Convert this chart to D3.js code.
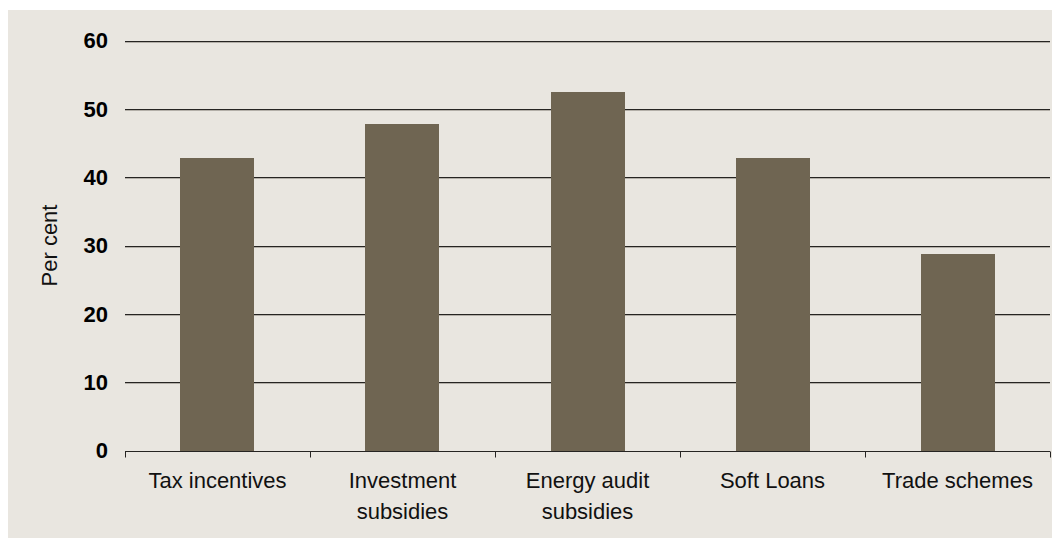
<!DOCTYPE html>
<html>
<head>
<meta charset="utf-8">
<script src="https://cdn.jsdelivr.net/npm/d3@7"></script>
<style>
  body { margin: 0; background: #fff; }
  svg { display: block; font-family: "Liberation Sans", Arial, sans-serif; }
</style>
</head>
<body>
<div id="chart"></div>
<script>
// data
const categories = ["Tax incentives", "Investment subsidies", "Energy audit subsidies", "Soft Loans", "Trade schemes"];
const labelLines = [["Tax incentives"], ["Investment", "subsidies"], ["Energy audit", "subsidies"], ["Soft Loans"], ["Trade schemes"]];
const values = [42.8, 47.8, 52.4, 42.8, 28.8];
const yTicks = [0, 10, 20, 30, 40, 50, 60];

const W = 1052, H = 539;
const margin = { left: 125, right: 2, top: 40.5, bottom: 88.5 };

const svg = d3.select("#chart").append("svg")
  .attr("width", W)
  .attr("height", H);

// panel background
svg.append("rect")
  .attr("x", 8).attr("y", 10)
  .attr("width", W - 8).attr("height", 528)
  .attr("fill", "#E9E6E0");

const x = d3.scaleBand()
  .domain(categories)
  .range([margin.left, W - margin.right])
  .paddingInner(0.6)
  .paddingOuter(0.3);

const y = d3.scaleLinear()
  .domain([0, 60])
  .range([H - margin.bottom, margin.top]);

// gridlines (with faint shadow)
const grid = svg.append("g");
yTicks.filter(t => t > 0).forEach(t => {
  grid.append("line")
    .attr("x1", margin.left).attr("x2", W - margin.right)
    .attr("y1", Math.round(y(t)) + 1.5).attr("y2", Math.round(y(t)) + 1.5)
    .attr("stroke", "#b3afa8").attr("stroke-width", 1);
  grid.append("line")
    .attr("x1", margin.left).attr("x2", W - margin.right)
    .attr("y1", Math.round(y(t)) + 0.5).attr("y2", Math.round(y(t)) + 0.5)
    .attr("stroke", "#262422").attr("stroke-width", 1);
});

// bars
svg.append("g")
  .selectAll("rect")
  .data(values)
  .join("rect")
  .attr("x", (d, i) => Math.round(x(categories[i])))
  .attr("width", Math.round(x.bandwidth()))
  .attr("y", d => Math.round(y(d)))
  .attr("height", d => Math.round(y(0)) - Math.round(y(d)))
  .attr("fill", "#6F6552");

// y tick labels
svg.append("g")
  .selectAll("text")
  .data(yTicks)
  .join("text")
  .attr("x", 108)
  .attr("y", d => y(d))
  .attr("dy", "0.36em")
  .attr("text-anchor", "end")
  .attr("font-size", 22)
  .attr("font-weight", "bold")
  .attr("fill", "#000")
  .text(d => d);

// x axis baseline and boundary ticks
const base = Math.round(y(0)) + 0.5;
const step = x.step();
const xa = svg.append("g");
xa.append("line")
  .attr("x1", margin.left).attr("x2", W - margin.right)
  .attr("y1", base).attr("y2", base)
  .attr("stroke", "#262422");
d3.range(categories.length + 1).forEach(i => {
  const px = Math.round(margin.left + i * step) + 0.5;
  xa.append("line")
    .attr("x1", px).attr("x2", px)
    .attr("y1", base).attr("y2", base + 6)
    .attr("stroke", "#262422");
});

// category labels
const cat = svg.append("g")
  .selectAll("text")
  .data(labelLines)
  .join("text")
  .attr("x", (d, i) => x(categories[i]) + x.bandwidth() / 2)
  .attr("y", 488)
  .attr("text-anchor", "middle")
  .attr("font-size", 22)
  .attr("fill", "#111");
cat.selectAll("tspan")
  .data(d => d)
  .join("tspan")
  .attr("x", function () { return d3.select(this.parentNode).attr("x"); })
  .attr("dy", (d, i) => i === 0 ? 0 : 31)
  .text(d => d);

// y axis title
svg.append("text")
  .attr("transform", `translate(57,${y(30)}) rotate(-90)`)
  .attr("text-anchor", "middle")
  .attr("font-size", 22)
  .attr("fill", "#111")
  .text("Per cent");
</script>
</body>
</html>
